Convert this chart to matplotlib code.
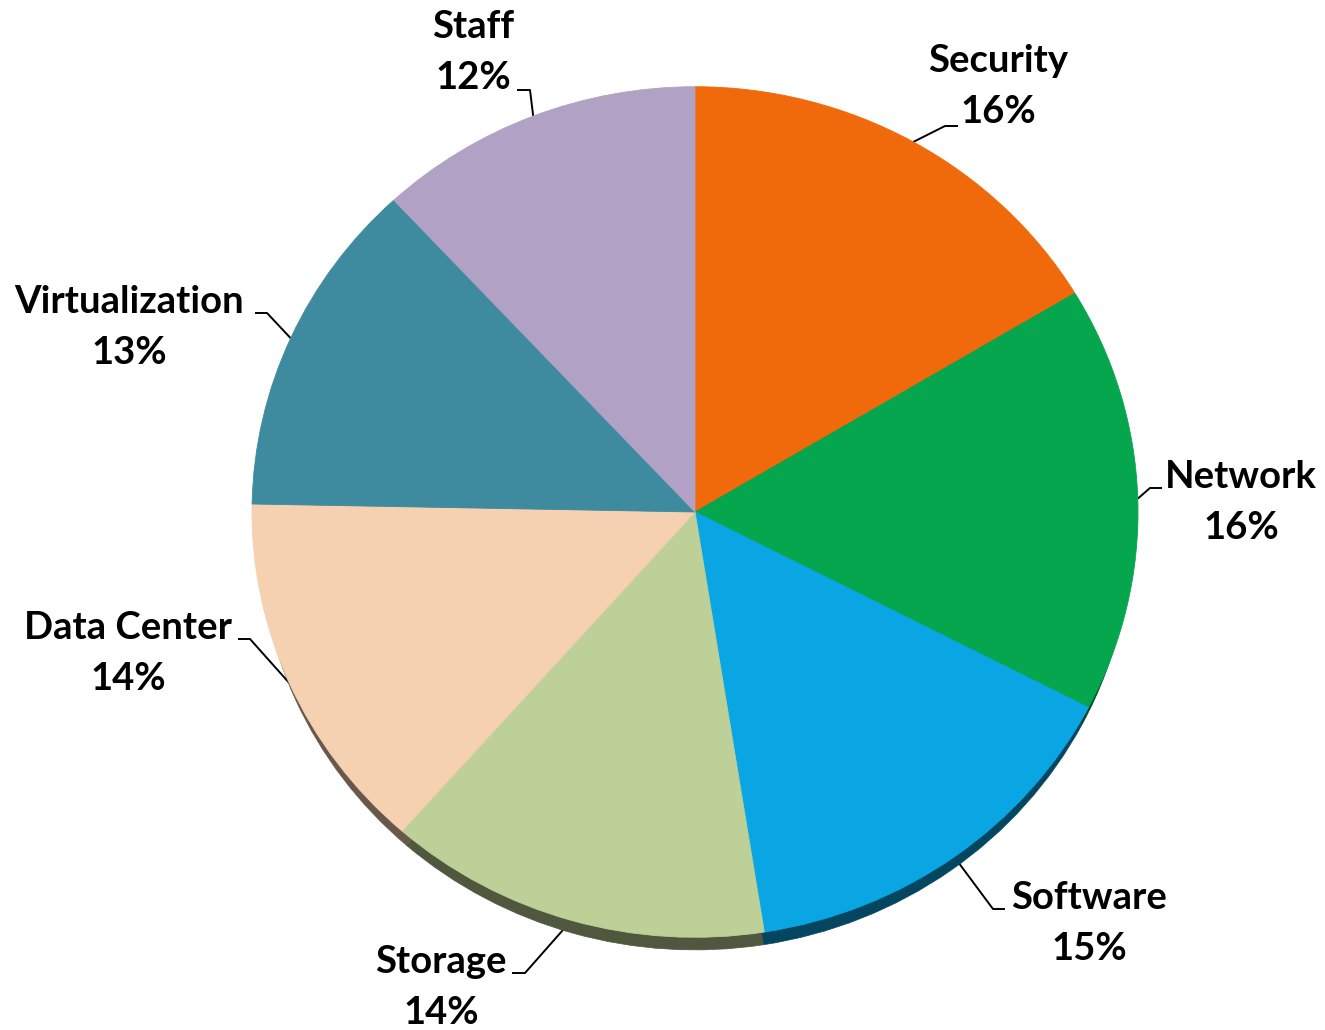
import numpy as np
import matplotlib
matplotlib.use("Agg")
from matplotlib import pyplot as plt
from matplotlib.colors import to_rgb

W, H = 1325, 1030
K = 0.96  # vertical squash of the tilted pie

categories = ["Security", "Network", "Software", "Storage", "Data Center", "Virtualization", "Staff"]
shares = [16.4, 16.2, 14.9, 14.0, 13.8, 12.8, 11.9]
pct_labels = ["16%", "16%", "15%", "14%", "14%", "13%", "12%"]
colors = ["#F0690A", "#06A64F", "#0AA6E4", "#BDD097", "#F5D1B1", "#3E8A9F", "#B1A2C5"]

# label layout in pixels: text centre x, baseline of first line, elbow, end of leader
label_x = [998, 1241, 1089, 441, 128, 129, 473]
label_y = [72, 488, 909, 973, 639, 313, 38]
elbow = [(945, 126), (1150, 488), (993, 909), (525, 973), (250, 639), (267, 313), (530, 90)]
lead_end = [(958, 126), (1162, 488), (1005, 909), (512, 973), (238, 639), (255, 313), (517, 90)]


def Y(py):
    return (H - py) / K


cx, cy, r = 695, 512, 443
shadow_off = 19

fig = plt.figure(figsize=(W / 100, H / 100), dpi=100)
ax = fig.add_axes([0, 0, 1, 1])

# side wall of the 3d pie: darker copy, a bit smaller and pushed down
dark = [tuple(c * 0.42 for c in to_rgb(col)) for col in colors]
sh, _ = ax.pie(shares, colors=dark, startangle=90, counterclock=False,
               center=(cx, Y(cy + shadow_off)), radius=r * 0.985,
               wedgeprops=dict(linewidth=0.5))
for w, col in zip(sh, dark):
    w.set_edgecolor(col)
    w.set_zorder(1)

wedges, _ = ax.pie(shares, colors=colors, startangle=90, counterclock=False,
                   center=(cx, Y(cy)), radius=r,
                   wedgeprops=dict(linewidth=0.6))
for w, col in zip(wedges, colors):
    w.set_edgecolor(col)
    w.set_zorder(2)

for i, w in enumerate(wedges):
    mid = np.deg2rad((w.theta1 + w.theta2) / 2)
    sx = cx + r * np.cos(mid)
    sy = Y(cy) + r * np.sin(mid)
    xs = [sx, elbow[i][0], lead_end[i][0]]
    ys = [sy, Y(elbow[i][1]), Y(lead_end[i][1])]
    ax.plot(xs, ys, color="black", lw=1.4, zorder=0, solid_capstyle="butt")
    ax.text(label_x[i], Y(label_y[i]), categories[i], ha="center", va="baseline",
            fontsize=27.5, fontweight="bold", family="Lato", color="black")
    ax.text(label_x[i], Y(label_y[i] + 51), pct_labels[i], ha="center", va="baseline",
            fontsize=27.5, fontweight="bold", family="Lato", color="black")

ax.set_aspect("auto")
ax.set_xlim(0, W)
ax.set_ylim(0, H / K)
ax.axis("off")

fig.savefig("out.png", dpi=100)
